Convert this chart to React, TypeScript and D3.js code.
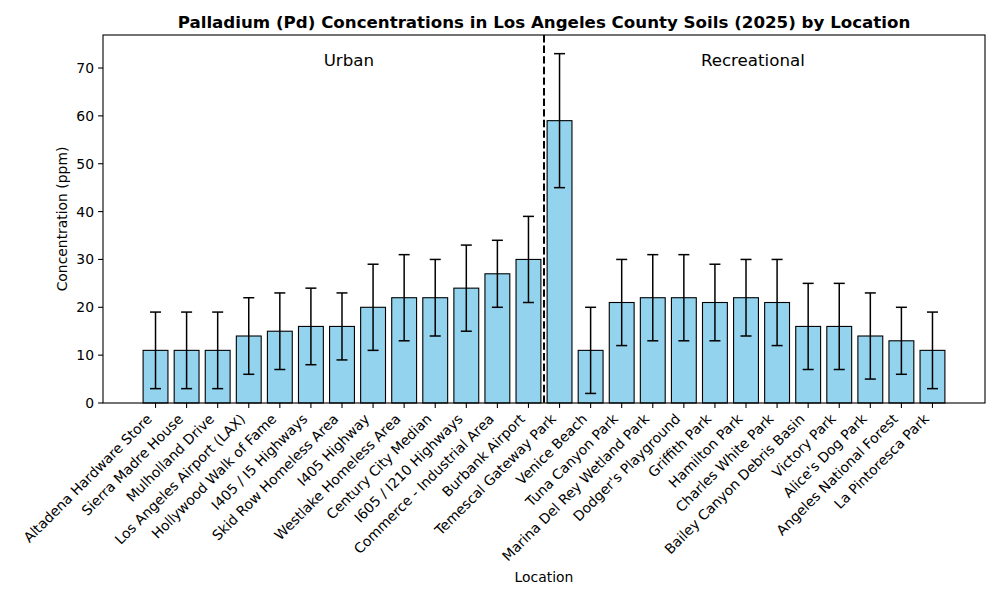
import React from 'react';
import * as d3 from 'd3';

const urbanSites = [
  'Altadena Hardware Store', 'Sierra Madre House', 'Mulholland Drive', 'Los Angeles Airport (LAX)',
  'Hollywood Walk of Fame', 'I405 / I5 Highways', 'Skid Row Homeless Area', 'I405 Highway',
  'Westlake Homeless Area', 'Century City Median', 'I605 / I210 Highways', 'Commerce - Industrial Area',
  'Burbank Airport',
];
const urbanValues = [11, 11, 11, 14, 15, 16, 16, 20, 22, 22, 24, 27, 30];
const urbanErrors = [8, 8, 8, 8, 8, 8, 7, 9, 9, 8, 9, 7, 9];

const recSites = [
  'Temescal Gateway Park', 'Venice Beach', 'Tuna Canyon Park', 'Marina Del Rey Wetland Park',
  "Dodger's Playground", 'Griffith Park', 'Hamilton Park', 'Charles White Park',
  'Bailey Canyon Debris Basin', 'Victory Park', "Alice's Dog Park", 'Angeles National Forest',
  'La Pintoresca Park',
];
const recValues = [59, 11, 21, 22, 22, 21, 22, 21, 16, 16, 14, 13, 11];
const recErrors = [14, 9, 9, 9, 9, 8, 8, 9, 9, 9, 9, 7, 8];

const yTicks = [0, 10, 20, 30, 40, 50, 60, 70];

const W = 1000;
const H = 600;
const left = 103;
const right = 985;
const top = 35;
const bottom = 403;
const font = 'DejaVu Sans, sans-serif';

export default function App() {
  const sites = [...urbanSites, ...recSites];
  const values = [...urbanValues, ...recValues];
  const errors = [...urbanErrors, ...recErrors];
  const n = sites.length;

  // matplotlib-like linear x axis: bars at integer positions, 5% margins
  const span = n - 1 + 0.8;
  const x = d3.scaleLinear()
    .domain([-0.4 - span * 0.05, n - 1 + 0.4 + span * 0.05])
    .range([left, right]);
  const y = d3.scaleLinear().domain([0, 76.9]).range([bottom, top]);
  const bw = x(0.8) - x(0);
  const cap = 5.5;
  const divider = urbanSites.length - 0.5;

  return (
    <svg width={W} height={H} style={{ position: 'absolute', left: 0, top: 0, background: '#fff' }} fontFamily={font}>
      <rect width={W} height={H} fill="#fff" />

      {values.map((v, i) => (
        <rect key={'b' + i} x={x(i - 0.4)} y={y(v)} width={bw} height={y(0) - y(v)}
          fill="#87ceeb" fillOpacity={0.9} stroke="#000" strokeWidth={1.1} />
      ))}

      {values.map((v, i) => {
        const cx = x(i);
        const lo = y(v - errors[i]);
        const hi = y(v + errors[i]);
        return (
          <g key={'e' + i} stroke="#000" strokeWidth={1.5}>
            <line x1={cx} x2={cx} y1={lo} y2={hi} />
            <line x1={cx - cap} x2={cx + cap} y1={lo} y2={lo} />
            <line x1={cx - cap} x2={cx + cap} y1={hi} y2={hi} />
          </g>
        );
      })}

      <line x1={x(divider)} x2={x(divider)} y1={top} y2={bottom} stroke="#000" strokeWidth={2}
        strokeDasharray="7.4,3.2" />

      <text x={x(6.22)} y={y(71.5)} fontSize={16.67} textAnchor="middle" dominantBaseline="central">Urban</text>
      <text x={x(19.22)} y={y(71.5)} fontSize={16.67} textAnchor="middle" dominantBaseline="central">Recreational</text>

      <rect x={left} y={top} width={right - left} height={bottom - top} fill="none" stroke="#000" strokeWidth={1.1} />

      {yTicks.map(t => (
        <g key={'y' + t}>
          <line x1={left - 4.9} x2={left} y1={y(t)} y2={y(t)} stroke="#000" strokeWidth={1.1} />
          <text x={left - 9} y={y(t)} fontSize={13.9} textAnchor="end" dominantBaseline="central">{t}</text>
        </g>
      ))}

      {sites.map((s, i) => (
        <g key={'x' + i}>
          <line x1={x(i)} x2={x(i)} y1={bottom} y2={bottom + 4.9} stroke="#000" strokeWidth={1.1} />
          <text transform={`translate(${x(i) - 10},${bottom + 9.5}) rotate(-45)`} fontSize={13.9}
            textAnchor="end" dominantBaseline="hanging">{s}</text>
        </g>
      ))}

      <text transform={`translate(62,${(top + bottom) / 2}) rotate(-90)`} fontSize={13.9}
        textAnchor="middle" dominantBaseline="central">Concentration (ppm)</text>
      <text x={(left + right) / 2} y={577} fontSize={13.9} textAnchor="middle" dominantBaseline="central">Location</text>
      <text x={(left + right) / 2} y={22} fontSize={16.67} fontWeight="bold" textAnchor="middle"
        dominantBaseline="central">Palladium (Pd) Concentrations in Los Angeles County Soils (2025) by Location</text>
    </svg>
  );
}
